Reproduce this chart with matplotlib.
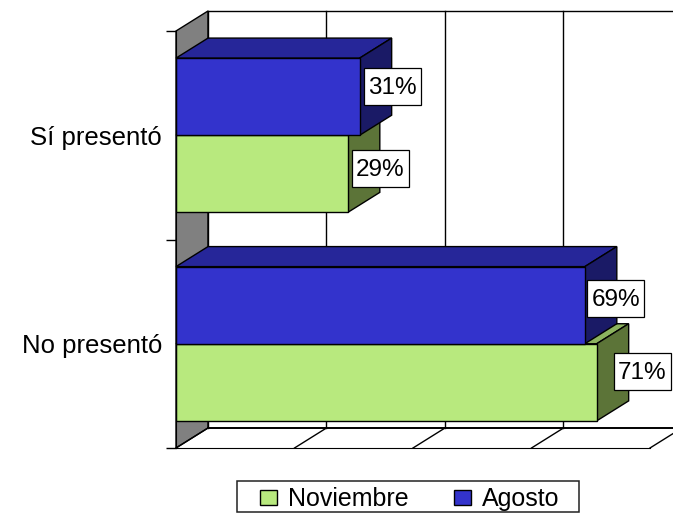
#!/usr/bin/env python3
# Faux 3D horizontal bars, in the style of an old Excel chart
import matplotlib
matplotlib.use('Agg')
import matplotlib.pyplot as plt
from matplotlib.patches import Polygon, Patch, Rectangle
from matplotlib.transforms import IdentityTransform

categories = ['No presentó', 'Sí presentó']
noviembre = [71, 29]
agosto = [69, 31]
grid_values = [0, 20, 40, 60, 80]

plt.rcParams['font.family'] = ['Liberation Sans', 'DejaVu Sans']

W, H = 673, 513
# depth of the 3D box, in data units
DX = 5.4
DY = 0.096
BAR_H = 0.37


def box(ax, value, y0, front, top, side):
    y1 = y0 + BAR_H
    ax.add_patch(Polygon([(0, y1), (DX, y1 + DY), (value + DX, y1 + DY), (value, y1)],
                         fc=top, ec='black', lw=1, zorder=3, clip_on=False))
    ax.add_patch(Polygon([(value, y0), (value + DX, y0 + DY), (value + DX, y1 + DY), (value, y1)],
                         fc=side, ec='black', lw=1, zorder=3, clip_on=False))
    ax.barh(y0 + BAR_H / 2, value, height=BAR_H, color=front, edgecolor='black', lw=1, zorder=3)


fig = plt.figure(figsize=(W / 100, H / 100), dpi=100)
# front plane: x 176-650 px, y 31-448 px
ax = fig.add_axes([176 / W, 1 - 448 / H, 474 / W, 417 / H])
ax.set_xlim(0, 80)
ax.set_ylim(-0.5, 1.5)

# back wall, side wall and floor
ax.add_patch(Polygon([(0, -0.5), (DX, -0.5 + DY), (DX, 1.5 + DY), (0, 1.5)],
                     fc='#808080', ec='black', lw=1, zorder=1, clip_on=False))
for v in grid_values:
    ax.plot([v, v + DX], [-0.5, -0.5 + DY], color='black', lw=1, zorder=1, clip_on=False)
    ax.plot([v + DX, v + DX], [-0.5 + DY, 1.5 + DY], color='black', lw=1, zorder=1, clip_on=False)
ax.plot([DX, 85], [-0.5 + DY] * 2, color='black', lw=1.4, zorder=1, clip_on=False)
ax.plot([DX, 85], [1.5 + DY] * 2, color='black', lw=1, zorder=1, clip_on=False)

for i in range(len(categories)):
    box(ax, noviembre[i], i - BAR_H, '#B8E97E', '#8CB35F', '#5C7438')
    box(ax, agosto[i], i, '#3333CC', '#262699', '#1A1A66')

# value labels: box is a fixed size in pixels, offset in pixels from the bar's front end
label_offsets = {(0, 0): (45.5, 10.5), (1, 0): (32.5, 5), (0, 1): (31, 6.5), (1, 1): (33, 10)}
for i in range(len(categories)):
    for j, (vals, yc) in enumerate([(noviembre, i - BAR_H / 2), (agosto, i + BAR_H / 2)]):
        off = label_offsets[(i, j)]
        px, py = ax.transData.transform((vals[i], yc))
        ax.add_patch(Rectangle((px + off[0] - 28.5, py + off[1] - 18.5), 57, 37, fc='white', ec='black',
                               lw=0.9, zorder=4.5, clip_on=False, transform=IdentityTransform()))
        ax.annotate(f'{vals[i]}%', (vals[i], yc), xytext=(off[0], off[1] - 1.5), textcoords='offset pixels',
                    ha='center', va='center', fontsize=17.5, zorder=5, annotation_clip=False)

for s in ['top', 'right']:
    ax.spines[s].set_visible(False)
ax.spines['left'].set_zorder(4)
ax.set_xticks([])
ax.set_yticks(range(len(categories)))
ax.set_yticklabels(categories, fontsize=18.5)
ax.tick_params(axis='y', which='major', length=0, pad=10)
ax.set_yticks([-0.5, 0.5, 1.5], minor=True)
ax.tick_params(axis='y', which='minor', length=7, width=1)

# legend frame is wider than the entries, so it is drawn on its own
fig.add_artist(Rectangle((237 / W, 1 - 512 / H), 342 / W, 31 / H, fc='white', ec='#222222', lw=1.1,
                         transform=fig.transFigure, zorder=2))
handles = [Patch(fc='#B8E97E', ec='black', lw=1), Patch(fc='#3333CC', ec='black', lw=1)]
leg = fig.legend(handles, ['Noviembre', 'Agosto'], ncol=2, fontsize=18, loc='center',
                 bbox_to_anchor=(410 / W, 1 - 499 / H), frameon=False,
                 handlelength=0.68, handleheight=0.55, handletextpad=0.45,
                 columnspacing=1.8, borderpad=0.15, borderaxespad=0)
leg.set_zorder(3)

fig.savefig('out.png', dpi=100)
